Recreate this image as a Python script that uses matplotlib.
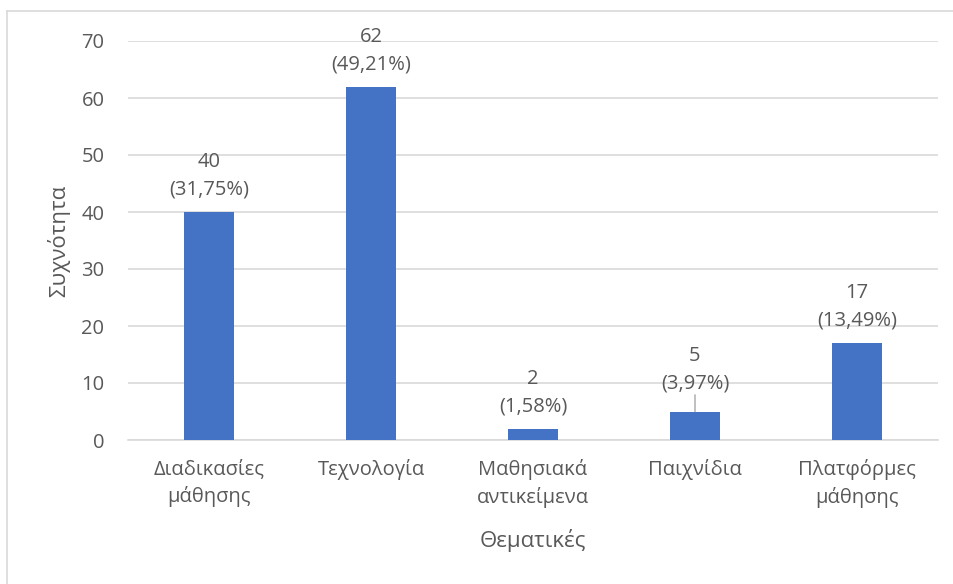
import matplotlib

matplotlib.use("Agg")
import matplotlib.pyplot as plt
from matplotlib.lines import Line2D

# Δεδομένα του γραφήματος
categories = ["Διαδικασίες\nμάθησης", "Τεχνολογία", "Μαθησιακά\nαντικείμενα",
              "Παιχνίδια", "Πλατφόρμες\nμάθησης"]
counts = [40, 62, 2, 5, 17]
percents = ["31,75%", "49,21%", "1,58%", "3,97%", "13,49%"]
y_ticks = [0, 10, 20, 30, 40, 50, 60, 70]

BAR_COLOR = "#4472C4"
TEXT_COLOR = "#595959"
GRID_COLOR = "#D9D9D9"

plt.rcParams["font.family"] = ["Open Sans", "DejaVu Sans"]

W, H = 954, 584
fig = plt.figure(figsize=(W / 100, H / 100), dpi=100)
ax = fig.add_axes([128 / W, 1 - 440 / H, (938 - 128) / W, 399 / H])

x = list(range(len(categories)))
ax.bar(x, counts, width=0.31, color=BAR_COLOR, zorder=3)
ax.set_xlim(-0.5, len(categories) - 0.5)
ax.set_ylim(0, 70)
ax.set_yticks(y_ticks)
ax.set_xticks(x)
ax.set_xticklabels(categories, fontsize=14.5, color=TEXT_COLOR, linespacing=1.42)
ax.tick_params(axis="y", labelsize=14.5, labelcolor=TEXT_COLOR, length=0, pad=17)
ax.tick_params(axis="x", length=0, pad=14)
ax.grid(axis="y", color=GRID_COLOR, linewidth=1.2, zorder=0)
for side in ["top", "right", "left"]:
    ax.spines[side].set_visible(False)
ax.spines["bottom"].set_color(GRID_COLOR)
ax.spines["bottom"].set_linewidth(1.2)

for i, (c, p) in enumerate(zip(counts, percents)):
    offset = 13 if c == 5 else 9
    ax.annotate(f"{c}\n({p})", (i, c), xytext=(0, offset), textcoords="offset points",
                ha="center", va="bottom", fontsize=14.5, color=TEXT_COLOR,
                linespacing=1.48, zorder=4)
    if c == 5:
        ax.annotate("", (i, c), xytext=(0, 12), textcoords="offset points",
                    arrowprops=dict(arrowstyle="-", color="#A6A6A6", lw=1,
                                    shrinkA=0, shrinkB=0))

ax.set_xlabel("Θεματικές", fontsize=16, color=TEXT_COLOR, labelpad=15)
ax.set_ylabel("Συχνότητα", fontsize=16, color=TEXT_COLOR, labelpad=8)

# περίγραμμα περιοχής γραφήματος (πάνω και αριστερά)
fig.add_artist(Line2D([7 / W, 1], [1 - 11 / H, 1 - 11 / H], color=GRID_COLOR, lw=1.2))
fig.add_artist(Line2D([7 / W, 7 / W], [0, 1 - 11 / H], color=GRID_COLOR, lw=1.2))

fig.savefig("out.png", dpi=100, facecolor="white")
